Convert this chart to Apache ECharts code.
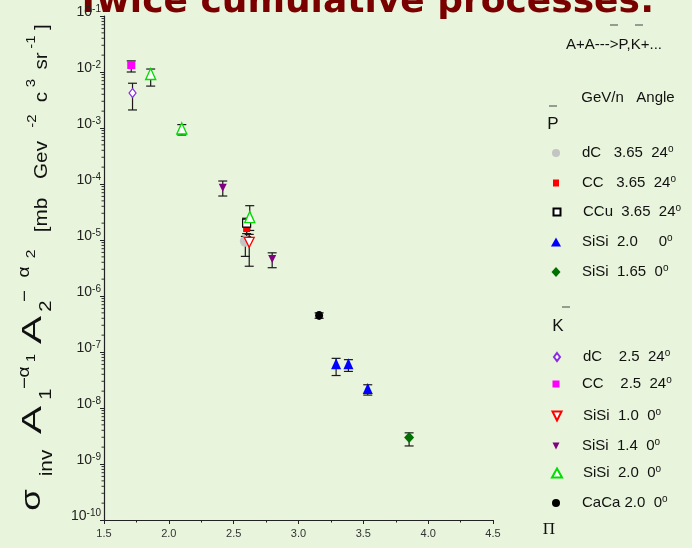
<!DOCTYPE html>
<html><head><meta charset="utf-8">
<script src="https://cdn.jsdelivr.net/npm/echarts@6/dist/echarts.min.js"></script>
<style>html,body{margin:0;padding:0;background:#e8f4dc}#c{width:692px;height:548px}</style>
</head><body><div id="c"></div>
<script>
// ---------- data ----------
// anti-protons (P-bar)
const pdC_x = [2.59],  pdC_y = [9.5e-6], pdC_lo = [5.1e-6], pdC_hi = [1.16e-5];
const pCC_x = [2.60],  pCC_y = [1.6e-5], pCC_lo = [1.3e-5], pCC_hi = [2.1e-5];
const pCCu_x = [2.60], pCCu_y = [2.0e-5], pCCu_lo = [1.15e-5], pCCu_hi = [2.45e-5];
const pSi20_x = [3.29, 3.385, 3.534], pSi20_y = [6.2e-8, 6.2e-8, 2.24e-8];
const pSi20_lo = [3.8e-8, 4.5e-8, 1.7e-8], pSi20_hi = [7.7e-8, 7.3e-8, 2.6e-8];
const pSi165_x = [3.853], pSi165_y = [2.98e-9], pSi165_lo = [2.1e-9], pSi165_hi = [3.6e-9];
// K-minus
const kdC_x = [1.72], kdC_y = [4.2e-3], kdC_lo = [2.1e-3], kdC_hi = [6.3e-3];
const kCC_x = [1.71], kCC_y = [1.33e-2], kCC_lo = [1.0e-2], kCC_hi = [1.58e-2];
const kSi10_x = [2.62], kSi10_y = [9.1e-6], kSi10_lo = [3.4e-6], kSi10_hi = [1.26e-5];
const kSi14_x = [2.416, 2.797], kSi14_y = [8.6e-5, 4.6e-6];
const kSi14_lo = [6.1e-5, 3.2e-6], kSi14_hi = [1.13e-4, 5.9e-6];
const kSi20_x = [1.86, 2.10, 2.624], kSi20_y = [9.2e-3, 9.8e-4, 2.56e-5];
const kSi20_lo = [5.6e-3, 7.5e-4, 1.48e-5], kSi20_hi = [1.13e-2, 1.15e-3, 4.1e-5];
// pions
const caca_x = [3.159], caca_y = [4.5e-7], caca_lo = [4.0e-7], caca_hi = [5.0e-7];

// axis ticks
const xTicks = [1.5, 2.0, 2.5, 3.0, 3.5, 4.0, 4.5];
const yDecades = [-10, -9, -8, -7, -6, -5, -4, -3, -2];
const yMinorMult = [2, 3, 4, 5, 6, 7, 8, 9];

// legend labels: [series name, text, superscript]
const legendLabels = {
  'P dC':    ['dC   3.65  24', 'o'],
  'P CC':    ['CC   3.65  24', 'o'],
  'P CCu':   ['CCu  3.65  24', 'o'],
  'P SiSi2': ['SiSi  2.0     0', 'o'],
  'P SiSi165':['SiSi  1.65  0', 'o'],
  'K dC':    ['dC    2.5  24', 'o'],
  'K CC':    ['CC    2.5  24', 'o'],
  'K SiSi1': ['SiSi  1.0  0', 'o'],
  'K SiSi14':['SiSi  1.4  0', 'o'],
  'K SiSi2': ['SiSi  2.0  0', 'o'],
  'CaCa':    ['CaCa 2.0  0', 'o']
};

const BG = '#e8f4dc';
const downTri = 'path://M0,0L10,0L5,10Z';

function zip(xs, ys) { return xs.map((x, i) => [x, ys[i]]); }
function errs(xs, lo, hi) { return xs.map((x, i) => [x, lo[i], hi[i]]); }

const seriesDefs = [
  // name, xs, ys, lo, hi, symbol, size, fill, stroke, borderWidth
  ['P dC', pdC_x, pdC_y, pdC_lo, pdC_hi, 'circle', 11, '#c4c4c4', null, 0],
  ['K SiSi1', kSi10_x, kSi10_y, kSi10_lo, kSi10_hi, downTri, [10, 10], '#ffffff', '#ff0000', 1.3],
  ['P CC', pCC_x, pCC_y, pCC_lo, pCC_hi, 'rect', 7, '#ff0000', null, 0],
  ['P CCu', pCCu_x, pCCu_y, pCCu_lo, pCCu_hi, 'rect', 8, '#ffffff', '#000000', 1.2],
  ['P SiSi2', pSi20_x, pSi20_y, pSi20_lo, pSi20_hi, 'triangle', [10, 11], '#0000ff', null, 0],
  ['P SiSi165', pSi165_x, pSi165_y, pSi165_lo, pSi165_hi, 'diamond', [10, 11], '#007000', null, 0],
  ['K dC', kdC_x, kdC_y, kdC_lo, kdC_hi, 'diamond', [7, 9], '#ffffff', '#8a2be2', 1.2],
  ['K CC', kCC_x, kCC_y, kCC_lo, kCC_hi, 'rect', 8, '#ff00ff', null, 0],
  ['K SiSi14', kSi14_x, kSi14_y, kSi14_lo, kSi14_hi, downTri, [8, 8], '#800080', null, 0],
  ['K SiSi2', kSi20_x, kSi20_y, kSi20_lo, kSi20_hi, 'triangle', [10, 11], '#ffffff', '#00dd00', 1.4],
  ['CaCa', caca_x, caca_y, caca_lo, caca_hi, 'circle', [8, 9], '#000000', null, 0]
];

// all error bars together
let errData = [];
seriesDefs.forEach(d => { errData = errData.concat(errs(d[1], d[3], d[4])); });

// minor log ticks on y axis
const minorVals = [];
yDecades.forEach(d => yMinorMult.forEach(m => minorVals.push([1.5, m * Math.pow(10, d)])));

const series = [];
series.push({
  type: 'custom', name: 'err', silent: true, z: 2,
  data: errData,
  encode: { x: 0, y: [1, 2] },
  renderItem: function (params, api) {
    const x = api.value(0), lo = api.value(1), hi = api.value(2);
    const a = api.coord([x, lo]), b = api.coord([x, hi]);
    const w = 4.5, st = { stroke: '#1a1a1a', lineWidth: 1.2 };
    return { type: 'group', children: [
      { type: 'line', shape: { x1: a[0], y1: a[1], x2: b[0], y2: b[1] }, style: st },
      { type: 'line', shape: { x1: a[0] - w, y1: a[1], x2: a[0] + w, y2: a[1] }, style: st },
      { type: 'line', shape: { x1: b[0] - w, y1: b[1], x2: b[0] + w, y2: b[1] }, style: st }
    ]};
  }
});
series.push({
  type: 'custom', name: 'minor', silent: true, z: 1, clip: false,
  data: minorVals,
  renderItem: function (params, api) {
    const p = api.coord([api.value(0), api.value(1)]);
    return { type: 'line', shape: { x1: p[0] - 2.5, y1: p[1], x2: p[0], y2: p[1] },
      style: { stroke: '#333', lineWidth: 1 } };
  }
});
seriesDefs.forEach((d, i) => {
  series.push({
    type: 'scatter', name: d[0], z: 5 + i,
    data: zip(d[1], d[2]),
    symbol: d[5], symbolSize: d[6],
    itemStyle: { color: d[7], borderColor: d[8] || d[7], borderWidth: d[9], opacity: 1 },
    emphasis: { disabled: true }
  });
});

// legend layout (one legend component per row): [name, centre y, icon width, icon height]
const legendRows = [
  ['P dC', 153, 8, 8], ['P CC', 183, 6, 7], ['P CCu', 212, 7, 7], ['P SiSi2', 242, 10, 9], ['P SiSi165', 272, 9, 10],
  ['K dC', 357, 6, 8], ['K CC', 384, 7, 7], ['K SiSi1', 416, 9, 9], ['K SiSi14', 446, 7, 7], ['K SiSi2', 473, 10, 9], ['CaCa', 503, 8, 8]
];
const legends = legendRows.map(r => ({
  data: [r[0]], orient: 'vertical', left: 556 - r[2] / 2, top: r[1] - 9,
  itemWidth: r[2], itemHeight: r[3], padding: 0, selectedMode: false,
  formatter: n => '{g| }{t|' + legendLabels[n][0] + '}{s|' + legendLabels[n][1] + '}',
  textStyle: {
    color: '#111', fontFamily: 'Liberation Sans', fontSize: 15,
    rich: {
      g: { width: 21 - r[2] / 2, fontSize: 15, lineHeight: 18 },
      t: { fontSize: 15, lineHeight: 18, fontFamily: 'Liberation Sans', color: '#111' },
      s: { fontSize: 10, lineHeight: 10, verticalAlign: 'top', fontFamily: 'Liberation Sans', color: '#111' }
    }
  }
}));

// rotated y-axis title pieces: [text, cx, cy, size, stretch]
const yTitle = [
  ['σ', 33, 500, 27, 1.3], ['inv', 47, 463, 18, 1.15], ['A', 33, 420, 28, 1.5], ['1', 46, 394, 17, 1.2],
  ['−', 25, 383, 17, 1.2], ['α', 25, 372, 16, 1.2], ['1', 32, 358, 12, 1.2],
  ['A', 33, 330, 28, 1.5], ['2', 46, 306, 17, 1.2], ['−', 25, 296, 17, 1.2], ['α', 25, 272, 16, 1.2], ['2', 31, 254, 13, 1.2],
  ['[mb', 42, 215, 18, 1.15], ['Gev', 42, 160, 18, 1.15], ['-2', 32, 121, 13, 1.15], ['c', 42, 97, 18, 1.15],
  ['3', 31, 83, 13, 1.15], ['sr', 42, 61, 18, 1.15], ['-1', 31, 42, 13, 1.15], [']', 42, 27, 18, 1.15]
];
const graphics = yTitle.map(p => ({
  type: 'text', x: p[1], y: p[2], rotation: Math.PI / 2, scaleX: p[4], silent: true,
  style: { text: p[0], fontSize: p[3], fontFamily: 'Liberation Sans', fill: '#111',
    align: 'center', verticalAlign: 'middle' }
}));
// big cut-off title
graphics.push({
  type: 'text', x: 76, y: 21, silent: true,
  style: { text: 'Twice cumulative processes:', fontSize: 36, fontWeight: 'bold',
    fontFamily: 'DejaVu Sans', fill: '#7a0000', align: 'left', verticalAlign: 'bottom' }
});
// legend headers
const headerTexts = [
  ['A+A--->P,K+...', 614, 45, 15, 'Liberation Sans'],
  ['GeV/n   Angle', 628, 98, 15, 'Liberation Sans'],
  ['P', 553, 124, 17, 'Liberation Sans'],
  ['K', 558, 326, 17, 'Liberation Sans'],
  ['Π', 549, 530, 17, 'Liberation Serif']
];
headerTexts.forEach(h => graphics.push({
  type: 'text', x: h[1], y: h[2], silent: true,
  style: { text: h[0], fontSize: h[3], fontFamily: h[4], fill: '#111', align: 'center', verticalAlign: 'middle' }
}));
const overbars = [[610, 618, 25], [635, 643, 25], [549, 557, 106], [562, 570, 307]];
overbars.forEach(o => graphics.push({
  type: 'line', silent: true, shape: { x1: o[0], y1: o[2], x2: o[1], y2: o[2] },
  style: { stroke: '#444', lineWidth: 1 }
}));

const chart = echarts.init(document.getElementById('c'), null, { renderer: 'canvas' });
chart.setOption({
  backgroundColor: BG,
  animation: false,
  grid: { left: 104, right: 199, top: 16, bottom: 28 },
  xAxis: {
    type: 'value', min: 1.5, max: 4.5, interval: 0.5,
    axisLine: { lineStyle: { color: '#222', width: 1.2 } },
    axisTick: { show: true, length: 4, lineStyle: { color: '#222' } },
    minorTick: { show: true, splitNumber: 2, length: 2.5, lineStyle: { color: '#222' } },
    splitLine: { show: false },
    axisLabel: { fontSize: 11, color: '#333', fontFamily: 'Liberation Sans', margin: 8,
      formatter: v => (xTicks.indexOf(v) >= 0 ? v.toFixed(1) : '') }
  },
  yAxis: {
    type: 'log', logBase: 10, min: 1e-10, max: 1e-1,
    axisLine: { show: true, lineStyle: { color: '#222', width: 1.2 } },
    axisTick: { show: true, length: 4, lineStyle: { color: '#222' } },
    splitLine: { show: false },
    axisLabel: {
      margin: 3, padding: [0, 0, 8, 0],
      formatter: v => '{a|10}{b|' + Math.round(Math.log10(v)) + '}',
      rich: {
        a: { fontSize: 14, fontFamily: 'Liberation Sans', color: '#222', lineHeight: 16 },
        b: { fontSize: 10, fontFamily: 'Liberation Sans', color: '#222', lineHeight: 10, verticalAlign: 'top' }
      }
    }
  },
  legend: legends,
  graphic: graphics,
  series: series
});
</script></body></html>
